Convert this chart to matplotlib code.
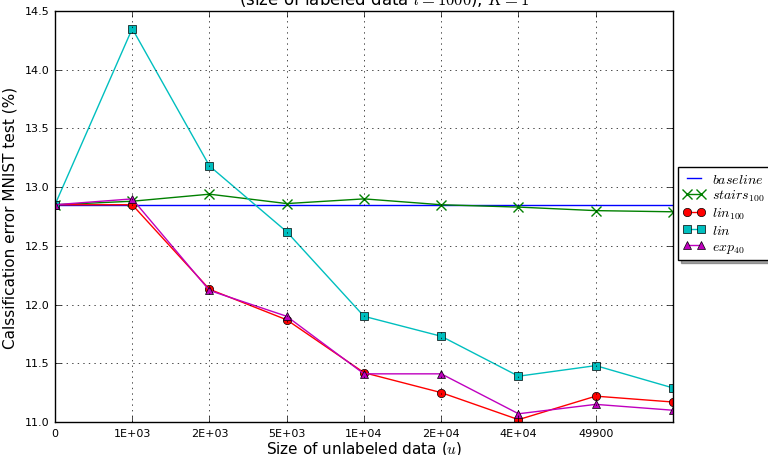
import matplotlib
matplotlib.use("Agg")
import matplotlib.pyplot as plt
import numpy as np

plt.style.use("classic")
plt.rcParams["mathtext.fontset"] = "cm"

# x positions are evenly spaced categories of unlabeled data size
xticklabels = ["0", "1E+03", "2E+03", "5E+03", "1E+04", "2E+04", "4E+04", "49900"]
n_points = 9

baseline = [12.85] * n_points
stairs100 = [12.85, 12.88, 12.94, 12.86, 12.90, 12.85, 12.83, 12.80, 12.79]
lin100 = [12.85, 12.85, 12.13, 11.87, 11.42, 11.25, 11.02, 11.22, 11.17]
lin = [12.85, 14.35, 13.18, 12.62, 11.90, 11.73, 11.39, 11.48, 11.29]
exp40 = [12.85, 12.90, 12.12, 11.90, 11.41, 11.41, 11.07, 11.15, 11.10]

fig = plt.figure(figsize=(7.68, 4.56), dpi=100, facecolor="white")
ax = fig.add_axes([0.0716, 0.0724, 0.8047, 0.9013])

x = np.arange(n_points)
ax.plot(x, baseline, "b-", lw=1, label=r"$baseline$")
ax.plot(x, stairs100, "g-x", lw=1, ms=7, mew=1, label=r"$stairs_{100}$")
ax.plot(x, lin100, "r-o", lw=1, ms=6, label=r"$lin_{100}$")
ax.plot(x, lin, "c-s", lw=1, ms=6, label=r"$lin$")
ax.plot(x, exp40, "m-^", lw=1, ms=6, label=r"$exp_{40}$")

ax.set_xlim(0, 8)
ax.set_ylim(11.0, 14.5)
ax.set_xticks(np.arange(len(xticklabels)))
ax.set_xticklabels(xticklabels, fontsize=8)
ax.set_yticks(np.arange(11.0, 14.51, 0.5))
ax.set_yticklabels(["%.1f" % v for v in np.arange(11.0, 14.51, 0.5)], fontsize=8)
ax.grid(True)

ax.set_xlabel(r"Size of unlabeled data ($u$)", fontsize=11, labelpad=1)
ax.set_ylabel("Calssification error MNIST test (%)", fontsize=11)
fig.text(0.5, 0.989, r"(size of labeled data $l=1000$), $K=1$",
         ha="center", va="baseline", fontsize=12)

ax.legend(loc="upper left", bbox_to_anchor=(1.008, 0.62), borderaxespad=0,
          fontsize=10, shadow=True, numpoints=2, handlelength=1.6,
          handletextpad=0.5, borderpad=0.35, labelspacing=0.15)

fig.savefig("out.png", dpi=100, facecolor="white")
